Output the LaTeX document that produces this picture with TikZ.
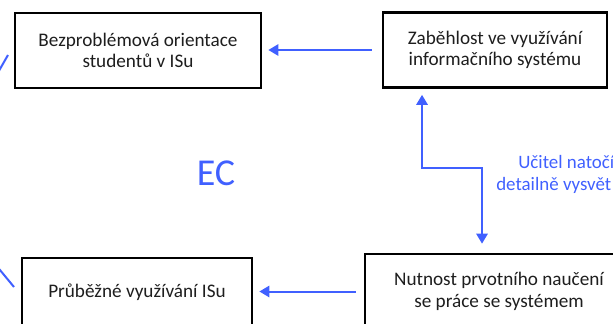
\documentclass[tikz,border=0pt]{standalone}
\usepackage{fontspec}
\setmainfont{Carlito}
\usepackage{xcolor}
\usetikzlibrary{arrows.meta}

\definecolor{linkblue}{RGB}{64,96,255}
\definecolor{boxtext}{RGB}{30,30,30}
\tikzset{
  box/.style={draw=black, line width=2pt, fill=white, align=center, inner sep=0pt,
    text=boxtext, minimum height=56.25pt, font=\fontsize{14.4}{16}\selectfont},
  link/.style={draw=linkblue, line width=1.5pt},
  arr/.style={link, -{Triangle[length=7.5pt,width=8.5pt]}},
  darr/.style={link, {Triangle[length=7.5pt,width=8.5pt]}-{Triangle[length=7.5pt,width=8.5pt]}},
  bluetext/.style={text=linkblue, inner sep=0pt, font=\fontsize{14.2}{16}\selectfont}
}

\begin{document}
\begin{tikzpicture}[x=0.75pt,y=0.75pt,yscale=-1,xscale=1]
\useasboundingbox (0,0) rectangle (613,324);
\clip (0,0) rectangle (613,324);

% Boxes
\node[box, minimum width=184.5pt] (orient) at (138,50.5) {Bezproblémová orientace\\studentů v ISu};
\node[box, minimum width=168pt] (zab) at (495,50) {Zaběhlost ve využívání\\informačního systému};
\node[box, minimum width=201pt] (nut) at (499,291.5) {Nutnost prvotního naučení\\se práce se systémem};
\node[box, minimum width=172.5pt, minimum height=51pt] (pru) at (137,292) {Průběžné využívání ISu};

% Text Node
\node[bluetext, font=\fontsize{28.5}{32}\selectfont] (ec) at (216,173) {EC};
% Text Node
\node[bluetext, anchor=base west] (lab1) at (518,168) {Učitel natočí};
\node[bluetext, anchor=base west] (lab2) at (496,190) {detailně vysvět};

% Arrows
\draw[arr, shorten <=7.5pt, shorten >=4.5pt] (zab.west) -- (zab.west -| orient.east);
\draw[arr, shorten <=6pt, shorten >=4.5pt] (nut.west) -- (nut.west -| pru.east);
\coordinate (bend) at (482,168);
\draw[darr, shorten <=6.75pt, shorten >=4.5pt] (nut.north -| bend) -- (bend) -| (zab.south -| 422,0);

% Straight Lines
\coordinate (tl) at (8,55);
\coordinate (tlout) at (-4,76);
\draw[link] (tl) -- (tlout);
\coordinate (bl) at (14,287);
\coordinate (blout) at (-5,264);
\draw[link] (bl) -- (blout);

\end{tikzpicture}
\end{document}
